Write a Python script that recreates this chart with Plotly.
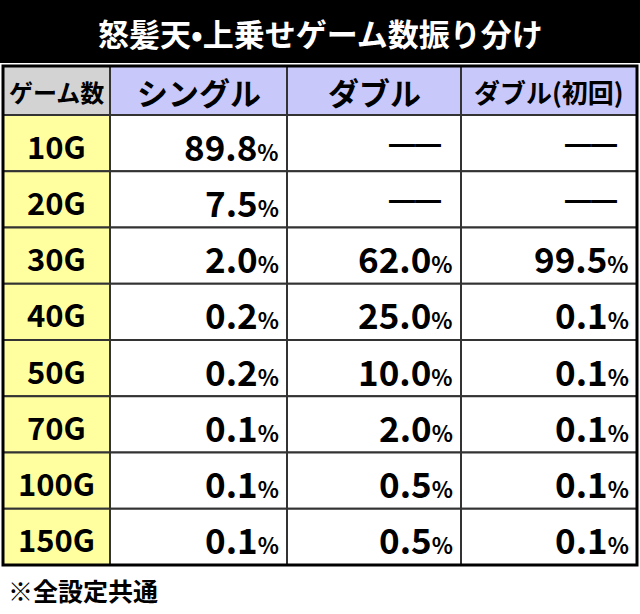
import plotly.graph_objects as go

title = "怒髪天•上乗せゲーム数振り分け"
headers = ["ゲーム数", "シングル", "ダブル", "ダブル(初回)"]
games = ["10G", "20G", "30G", "40G", "50G", "70G", "100G", "150G"]
single = ["89.8", "7.5", "2.0", "0.2", "0.2", "0.1", "0.1", "0.1"]
double = [None, None, "62.0", "25.0", "10.0", "2.0", "0.5", "0.5"]
double_first = [None, None, "99.5", "0.1", "0.1", "0.1", "0.1", "0.1"]
note = "※全設定共通"

W, H = 640, 614
col_x = [3, 110, 287, 461, 637]
head_top, head_bot = 66, 115
row_h = 56.25
font = "Noto Sans CJK JP"

fig = go.Figure()
shapes = []
ann = []

# title bar
shapes.append(dict(type="rect", x0=0, x1=W, y0=0, y1=63, fillcolor="black", line_width=0))
ann.append(dict(x=W / 2, y=32, text="<b>" + title + "</b>", showarrow=False,
                font=dict(family=font, size=31, color="white")))

# header row
head_fill = ["#d3d3d3", "#c8c8fa", "#c8c8fa", "#c8c8fa"]
for i, h in enumerate(headers):
    shapes.append(dict(type="rect", x0=col_x[i], x1=col_x[i + 1], y0=head_top, y1=head_bot,
                       fillcolor=head_fill[i], line=dict(color="#333", width=2)))
    size = 24 if i == 0 else (31 if i < 3 else 26)
    ann.append(dict(x=(col_x[i] + col_x[i + 1]) / 2, y=(head_top + head_bot) / 2 + 1,
                    text="<b>" + h + "</b>", showarrow=False,
                    font=dict(family=font, size=size, color="black")))

cols = [single, double, double_first]
for r, g in enumerate(games):
    y0 = head_bot + r * row_h
    y1 = y0 + row_h
    yc = (y0 + y1) / 2
    shapes.append(dict(type="rect", x0=col_x[0], x1=col_x[1], y0=y0, y1=y1,
                       fillcolor="#ffffa0", line=dict(color="#333", width=2)))
    ann.append(dict(x=(col_x[0] + col_x[1]) / 2, y=yc + 2, text="<b>" + g + "</b>",
                    showarrow=False, font=dict(family=font, size=31, color="black")))
    for c, vals in enumerate(cols):
        xa, xb = col_x[c + 1], col_x[c + 2]
        shapes.append(dict(type="rect", x0=xa, x1=xb, y0=y0, y1=y1,
                           fillcolor="white", line=dict(color="#333", width=2)))
        v = vals[r]
        if v is None:
            ann.append(dict(x=xb - 46, y=yc, text="<b>━━</b>", showarrow=False,
                            font=dict(family=font, size=26, color="black")))
        else:
            ann.append(dict(x=xb - 6, y=yc + 2, xanchor="right",
                            text="<b>" + v + "<span style='font-size:22px'>%</span></b>",
                            showarrow=False, font=dict(family=font, size=35, color="black")))

# outer border
shapes.append(dict(type="rect", x0=col_x[0], x1=col_x[-1], y0=head_top,
                   y1=head_bot + len(games) * row_h, line=dict(color="black", width=3)))
ann.append(dict(x=6, y=590, xanchor="left", text="<b>" + note + "</b>", showarrow=False,
                font=dict(family=font, size=25, color="black")))

for a in ann:
    a.update(xref="x", yref="y")
for s in shapes:
    s.update(xref="x", yref="y")

fig.update_layout(
    width=W, height=H, margin=dict(l=0, r=0, t=0, b=0),
    paper_bgcolor="white", plot_bgcolor="white",
    xaxis=dict(range=[0, W], visible=False, fixedrange=True),
    yaxis=dict(range=[H, 0], visible=False, fixedrange=True),
    shapes=shapes, annotations=ann, showlegend=False,
)
fig.write_html("out.html", config={"displayModeBar": False},
               post_script="document.body.style.margin='0';document.body.style.overflow='hidden';")
